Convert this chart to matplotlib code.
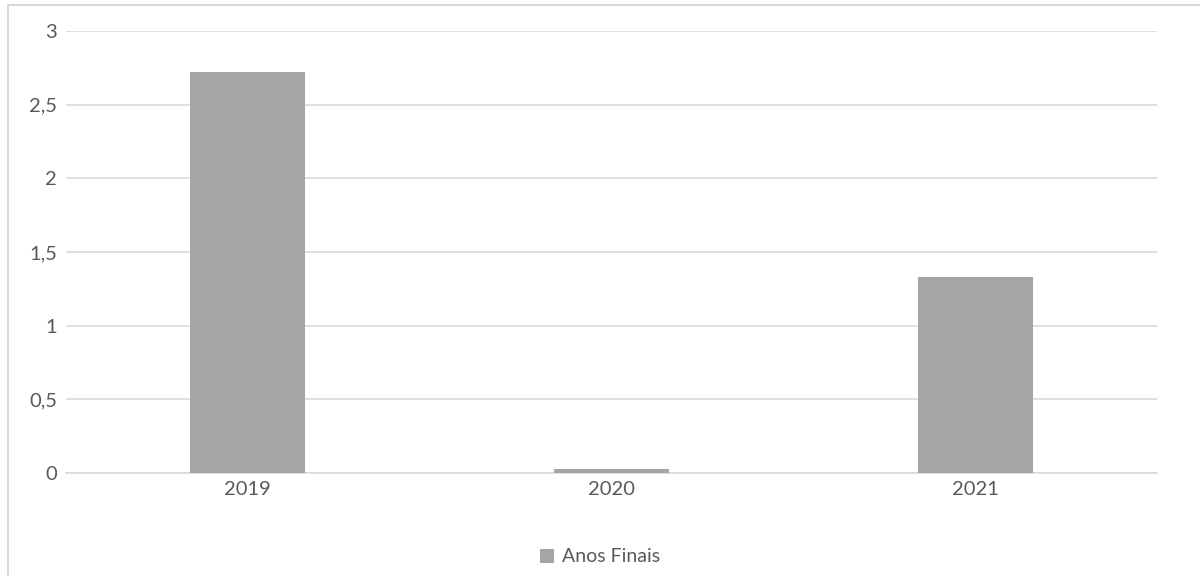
import matplotlib
matplotlib.use("Agg")
import matplotlib.pyplot as plt
from matplotlib.patches import Rectangle

categories = ["2019", "2020", "2021"]
values = [2.72, 0.03, 1.33]
series_name = "Anos Finais"
yticks = [0, 0.5, 1, 1.5, 2, 2.5, 3]
ytick_labels = ["0", "0,5", "1", "1,5", "2", "2,5", "3"]

plt.rcParams['font.family'] = ['Lato', 'DejaVu Sans']

fig = plt.figure(figsize=(12, 5.76), dpi=100)
# outer chart border (cropped on right/bottom)
fig.patches.append(Rectangle((7.5/1200, -0.1), 1.2, 1 - 4.5/576 + 0.1,
                             transform=fig.transFigure, fill=False,
                             edgecolor="#D9D9D9", linewidth=1.5))

ax = fig.add_axes([66/1200, 1 - 473/576, (1157 - 66)/1200, (473 - 31)/576])
x = range(len(categories))
ax.bar(x, values, width=0.316, color="#A5A5A5", label=series_name, zorder=3)
ax.set_xlim(-0.5, len(categories) - 0.5)
ax.set_ylim(0, 3)
ax.set_yticks(yticks)
ax.set_yticklabels(ytick_labels)
ax.set_xticks(list(x))
ax.set_xticklabels(categories)
ax.grid(axis="y", color="#D9D9D9", linewidth=1.2, zorder=0)
for s in ["top", "right", "left"]:
    ax.spines[s].set_visible(False)
ax.spines["bottom"].set_color("#D9D9D9")
ax.spines["bottom"].set_linewidth(1.2)
ax.tick_params(axis="both", length=0, labelsize=14.5, colors="#595959")
ax.tick_params(axis="y", pad=6.5)
ax.tick_params(axis="x", pad=6)

leg = fig.legend(loc="center", bbox_to_anchor=(0.5, 1 - 557/576), frameon=False,
                 fontsize=14, handlelength=0.7, handleheight=0.7, handletextpad=0.4)
for t in leg.get_texts():
    t.set_color("#595959")

fig.savefig("out.png", dpi=100, facecolor="white")
